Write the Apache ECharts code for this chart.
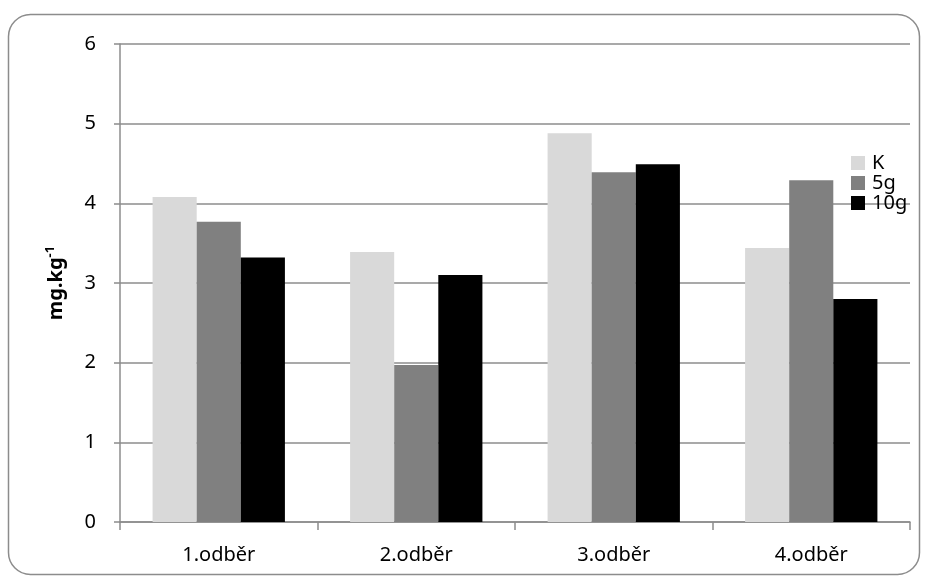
<!DOCTYPE html>
<html><head><meta charset="utf-8">
<script src="https://cdn.jsdelivr.net/npm/echarts@6/dist/echarts.min.js"></script>
<style>html,body{margin:0;padding:0;background:#fff}#c{width:926px;height:581px}</style>
</head><body><div id="c"></div>
<script>
const categories = ['1.odběr', '2.odběr', '3.odběr', '4.odběr'];
const seriesNames = ['K', '5g', '10g'];
const valuesK = [4.08, 3.39, 4.88, 3.44];
const values5g = [3.77, 1.97, 4.39, 4.29];
const values10g = [3.32, 3.10, 4.49, 2.80];
const colors = ['#d9d9d9', '#808080', '#000000'];
const font = '"Noto Sans", "Liberation Sans", Arial, sans-serif';
const chart = echarts.init(document.getElementById('c'));
const data = [valuesK, values5g, values10g];
chart.setOption({
  animation: false,
  graphic: [{type: 'rect', shape: {x: 8.5, y: 14.5, width: 911, height: 560, r: 22}, style: {fill: 'none', stroke: '#8c8c8c', lineWidth: 1.5}, z: -1}],
  grid: {left: 120, right: 16, top: 44, bottom: 59},
  legend: {
    orient: 'vertical', left: 846, top: 148, itemWidth: 14, itemHeight: 14, itemGap: 0,
    data: seriesNames, icon: 'rect',
    textStyle: {fontFamily: font, fontSize: 20, color: '#000', padding: [0,0,0,2]}
  },
  xAxis: {
    type: 'category', data: categories,
    axisLine: {lineStyle: {color: '#8c8c8c', width: 1.5}},
    axisTick: {show: true, length: 8, lineStyle: {color: '#8c8c8c', width: 1.5}},
    axisLabel: {fontFamily: font, fontSize: 20, color: '#000', margin: 23}
  },
  yAxis: {
    type: 'value', min: 0, max: 6, interval: 1,
    name: '{a|mg.kg}{s|-1}', nameLocation: 'middle', nameGap: 54, nameRotate: 90,
    nameTextStyle: {rich: {
      a: {fontFamily: font, fontSize: 20, fontWeight: 'bold', color: '#000', verticalAlign: 'bottom'},
      s: {fontFamily: font, fontSize: 13, fontWeight: 'bold', color: '#000', verticalAlign: 'top', padding: [0,0,9,0]}
    }},
    axisLine: {show: true, lineStyle: {color: '#8c8c8c', width: 1.5}},
    axisTick: {show: true, length: 6, lineStyle: {color: '#8c8c8c', width: 1.5}},
    axisLabel: {fontFamily: font, fontSize: 20, color: '#000', margin: 24},
    splitLine: {lineStyle: {color: '#8c8c8c', width: 1.5}}
  },
  series: seriesNames.map((n, i) => ({
    name: n, type: 'bar', data: data[i], barGap: '0%', barCategoryGap: '33%',
    itemStyle: {color: colors[i]}
  }))
});
</script></body></html>
